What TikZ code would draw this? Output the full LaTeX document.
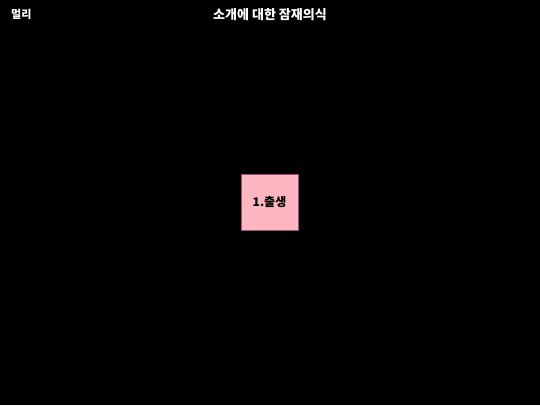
\documentclass[tikz,border=0pt]{standalone}
\usepackage{fontspec}
\newfontfamily\cjk{Noto Sans CJK KR}
\usetikzlibrary{backgrounds}
\definecolor{boxpink}{RGB}{255,182,193}
\definecolor{boxedge}{RGB}{150,80,120}

\begin{document}
\begin{tikzpicture}[
		x = 1pt, y = 1pt,
		every node/.style = {font = \cjk\bfseries},
		label/.style = {text = white, inner sep = 0pt},
		stage/.style = {draw = boxedge, fill = boxpink, text = black,
			minimum width = 57pt, minimum height = 56pt, inner sep = 0pt}
		]
		% canvas
		\fill[black] (0,0) rectangle (540,405);
		\useasboundingbox (0,0) rectangle (540,405);
		
		% texts at the top
		\node[label, font = \cjk\bfseries\fontsize{13}{15}\selectfont] (Title) at (270,390) {소개에 대한 잠재의식};
		\node[label, font = \cjk\bfseries\fontsize{11}{13}\selectfont, anchor = west] (Far) at (11,391) {멀리};
		
		% the one stage
		\node[stage, font = \cjk\bfseries\fontsize{12}{14}\selectfont] (Birth) at (269.5,203) {1.출생};
	\end{tikzpicture}
\end{document}
